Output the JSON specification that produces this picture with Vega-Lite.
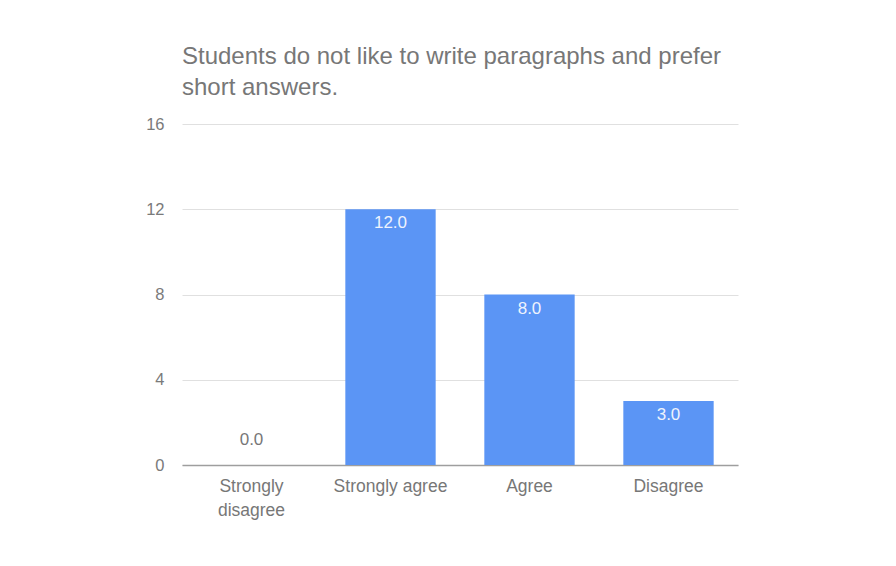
{
  "$schema": "https://vega.github.io/schema/vega-lite/v6.json",
  "width": 556,
  "height": 341,
  "autosize": {"type": "none"},
  "padding": {"left": 182, "top": 124, "right": 158, "bottom": 101},
  "background": "white",
  "title": {
    "text": ["Students do not like to write paragraphs and prefer", "short answers."],
    "anchor": "start",
    "frame": "group",
    "font": "Liberation Sans",
    "fontSize": 24,
    "fontWeight": "normal",
    "color": "#777777",
    "lineHeight": 31,
    "offset": 16
  },
  "data": {
    "values": [
      {"answer": "Strongly disagree", "count": 0},
      {"answer": "Strongly agree", "count": 12},
      {"answer": "Agree", "count": 8},
      {"answer": "Disagree", "count": 3}
    ]
  },
  "encoding": {
    "x": {
      "field": "answer",
      "type": "nominal",
      "sort": null,
      "scale": {"paddingInner": 0.35, "paddingOuter": 0.175},
      "axis": {
        "title": null,
        "labelAngle": 0,
        "ticks": false,
        "labelPadding": 12,
        "labelFont": "Liberation Sans",
        "labelFontSize": 17.5,
        "labelColor": "#777777",
        "labelLineHeight": 24,
        "labelExpr": "datum.label == 'Strongly disagree' ? ['Strongly', 'disagree'] : datum.label",
        "domainColor": "#9e9e9e",
        "domainWidth": 1.5,
        "grid": false
      }
    },
    "y": {
      "field": "count",
      "type": "quantitative",
      "scale": {"domain": [0, 16]},
      "axis": {
        "title": null,
        "values": [0, 4, 8, 12, 16],
        "ticks": false,
        "domain": false,
        "labelPadding": 18,
        "labelFont": "Liberation Sans",
        "labelFontSize": 16.5,
        "labelColor": "#7a7a7a",
        "gridColor": "#e0e0e0",
        "gridWidth": 1
      }
    }
  },
  "layer": [
    {"mark": {"type": "bar", "color": "#5b95f5"}},
    {
      "transform": [{"filter": "datum.count > 0"}],
      "mark": {"type": "text", "baseline": "alphabetic", "dy": 19, "font": "Liberation Sans", "fontSize": 17, "color": "#eef3fd"},
      "encoding": {"text": {"field": "count", "type": "quantitative", "format": ".1f"}}
    },
    {
      "transform": [{"filter": "datum.count == 0"}],
      "mark": {"type": "text", "baseline": "alphabetic", "dy": -20, "font": "Liberation Sans", "fontSize": 17, "color": "#777777"},
      "encoding": {"text": {"field": "count", "type": "quantitative", "format": ".1f"}}
    }
  ],
  "config": {"view": {"stroke": null}}
}
